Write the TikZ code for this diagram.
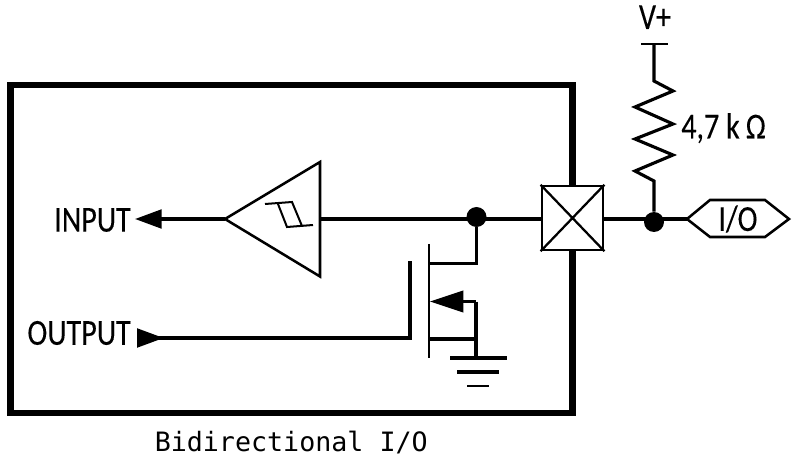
\documentclass[tikz,border=0pt]{standalone}
\usepackage{fontspec}
\newfontfamily\pinfont[FakeStretch=0.82,FakeBold=0.1]{Carlito}
\newfontfamily\capfont{DejaVu Sans Mono}
\usetikzlibrary{positioning,arrows.meta,calc}
\tikzset{
	wire/.style={line width=2.35pt},
	thinwire/.style={line width=1.9pt},
	chip/.style={draw, line width=5.2pt, minimum width=421.5pt, minimum height=246pt},
	pad/.style={draw, fill=white, line width=1.9pt, minimum width=46pt, minimum height=48pt},
	dot/.style={circle, fill=black, inner sep=0pt, minimum size=15pt},
	pin/.style={font=\fontsize{27.5pt}{30pt}\pinfont, inner sep=0pt},
	tipin/.style={wire, -{Triangle[length=20pt,width=14pt]}},
	tipout/.style={wire, {Triangle[reversed,length=20pt,width=14pt]}-},
	tipfet/.style={wire, -{Triangle[length=25pt,width=16pt]}},
}
\begin{document}
\begin{tikzpicture}[x=0.75pt,y=-0.75pt]
	\useasboundingbox (0,0) rectangle (794,467);
	
	% ================= Chip outline =================
	\node[chip] (chip) at (291.25,249) {};
	\node[below=11pt of chip.south, font=\fontsize{20pt}{24pt}\capfont, inner sep=0pt] (title) {Bidirectional I/O};
	
	% ================= Pad and junctions =================
	\node[pad] (iopad) at (572.5,218) {};
	\draw[line width=1.7pt] (iopad.north west) -- (iopad.south east)
	(iopad.north east) -- (iopad.south west);
	\node[dot] (inj) at (476.5,217) {};
	\node[dot] (outj) at (654,222) {};
	
	% ================= Input buffer =================
	\coordinate (buftip) at (225,219);
	\coordinate (buftop) at (320,162);
	\coordinate (bufbot) at (320,276.5);
	\coordinate (bufin) at (320,219);
	\draw[thinwire, line join=miter] (buftip) -- (buftop) -- (bufbot) -- cycle;
	\draw[line width=1.5pt] (265,204) -- (292,202) -- (302,226)
	(278,204) -- (287,227) -- (313,225);
	\draw[wire] (bufin) -- (bufin -| iopad.west);
	\node[pin, anchor=east] (input) at (131,220) {INPUT};
	\coordinate (inend) at (135,219);
	\draw[tipin] (buftip) -- (inend);
	
	% ================= Output transistor =================
	\node[pin, anchor=east] (output) at (131,333) {OUTPUT};
	\coordinate (outbeg) at (137,338);
	\coordinate (gate) at (410,338);
	\coordinate (gatetop) at (410,263);
	\coordinate (chtop) at (429,244);
	\coordinate (chbot) at (429,358);
	\draw[tipout] (outbeg) -- (gate);
	\draw[wire, line cap=rect] (gate) -- (gatetop);
	\draw[thinwire] (chtop) -- (chbot);
	\draw[wire] (429,263.5) -| (inj);
	\draw[wire] (429,339) -- (476,339);
	\coordinate (body) at (476,301.5);
	\coordinate (bodytip) at (430,301.5);
	\coordinate (gnd) at (476,358);
	\draw[wire] (body) -- (gnd);
	\draw[tipfet] (body) -- (bodytip);
	
	% ================= Ground =================
	\draw[wire] (450,358) -- (507,358);
	\draw[wire] (457,372) -- (499,372);
	\draw[thinwire] (467,386) -- (489,386);
	
	% ================= Pull-up =================
	\node[pin, anchor=base] (vplus) at (655,29) {V+};
	\coordinate (vbar) at (654,44);
	\draw[thinwire] (641,44) -- (668,44);
	\draw[wire, line join=miter] (vbar) -- (654,81) -- (673,91) -- (635,107) -- (673,124)
	-- (635,139) -- (673,155) -- (635,171) -- (654,181) -- (outj);
	\node[pin, anchor=base west] (rval) at (681,138.5) {4,7 k\,Ω};
	
	% ================= I/O connector =================
	\node[pin] (iotxt) at (738,219) {I/O};
	\coordinate (hexl) at (687,219);
	\draw[thinwire, line join=miter] (hexl) -- (710,200) -- (765,200) -- (789,219)
	-- (765,237) -- (710,237) -- cycle;
	\draw[wire] (iopad.east |- bufin) -- (hexl);
	
\end{tikzpicture}
\end{document}
